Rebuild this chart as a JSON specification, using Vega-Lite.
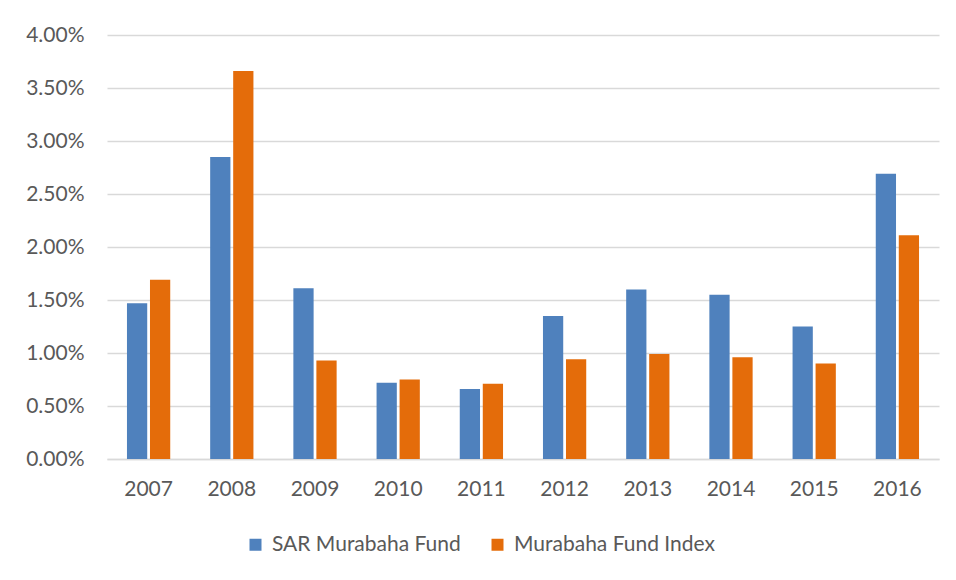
{
  "$schema": "https://vega.github.io/schema/vega-lite/v6.json",
  "width": 832,
  "height": 424,
  "autosize": {"type": "none"},
  "padding": {"left": 107, "top": 35, "right": 17, "bottom": 121},
  "background": "white",
  "config": {
    "view": {"stroke": null},
    "font": "Lato",
    "axis": {"labelFont": "Lato", "labelColor": "#595959", "labelFontSize": 21}
  },
  "data": {
    "values": [
      {"year": "2007", "series": "SAR Murabaha Fund", "value": 0.0147},
      {"year": "2007", "series": "Murabaha Fund Index", "value": 0.0169},
      {"year": "2008", "series": "SAR Murabaha Fund", "value": 0.0285},
      {"year": "2008", "series": "Murabaha Fund Index", "value": 0.0366},
      {"year": "2009", "series": "SAR Murabaha Fund", "value": 0.0161},
      {"year": "2009", "series": "Murabaha Fund Index", "value": 0.0093},
      {"year": "2010", "series": "SAR Murabaha Fund", "value": 0.0072},
      {"year": "2010", "series": "Murabaha Fund Index", "value": 0.0075},
      {"year": "2011", "series": "SAR Murabaha Fund", "value": 0.0066},
      {"year": "2011", "series": "Murabaha Fund Index", "value": 0.0071},
      {"year": "2012", "series": "SAR Murabaha Fund", "value": 0.0135},
      {"year": "2012", "series": "Murabaha Fund Index", "value": 0.0094},
      {"year": "2013", "series": "SAR Murabaha Fund", "value": 0.0160},
      {"year": "2013", "series": "Murabaha Fund Index", "value": 0.0099},
      {"year": "2014", "series": "SAR Murabaha Fund", "value": 0.0155},
      {"year": "2014", "series": "Murabaha Fund Index", "value": 0.0096},
      {"year": "2015", "series": "SAR Murabaha Fund", "value": 0.0125},
      {"year": "2015", "series": "Murabaha Fund Index", "value": 0.0090},
      {"year": "2016", "series": "SAR Murabaha Fund", "value": 0.0269},
      {"year": "2016", "series": "Murabaha Fund Index", "value": 0.0211}
    ]
  },
  "mark": {"type": "bar"},
  "encoding": {
    "x": {
      "field": "year", "type": "nominal", "title": null,
      "scale": {"paddingInner": 0.48, "paddingOuter": 0.24},
      "axis": {"labelAngle": 0, "ticks": false, "domain": true, "domainColor": "#D9D9D9", "domainWidth": 1.5, "labelPadding": 19, "grid": false}
    },
    "xOffset": {
      "field": "series", "type": "nominal",
      "sort": ["SAR Murabaha Fund", "Murabaha Fund Index"],
      "scale": {"paddingInner": 0.12}
    },
    "y": {
      "field": "value", "type": "quantitative", "title": null,
      "scale": {"domain": [0, 0.04], "nice": false},
      "axis": {"format": ".2%", "values": [0, 0.005, 0.01, 0.015, 0.02, 0.025, 0.03, 0.035, 0.04], "ticks": false, "domain": false, "gridColor": "#D9D9D9", "gridWidth": 1.5, "labelPadding": 23}
    },
    "color": {
      "field": "series", "type": "nominal",
      "scale": {"domain": ["SAR Murabaha Fund", "Murabaha Fund Index"], "range": ["#4F81BD", "#E46C0A"]},
      "legend": {
        "title": null, "orient": "none", "direction": "horizontal",
        "legendX": 138, "legendY": 499,
        "symbolType": "square", "symbolSize": 144, "symbolStrokeWidth": 0,
        "labelFontSize": 21, "labelColor": "#595959", "labelFont": "Lato", "labelLimit": 400,
        "labelOffset": 6, "columnPadding": 26
      }
    }
  }
}
